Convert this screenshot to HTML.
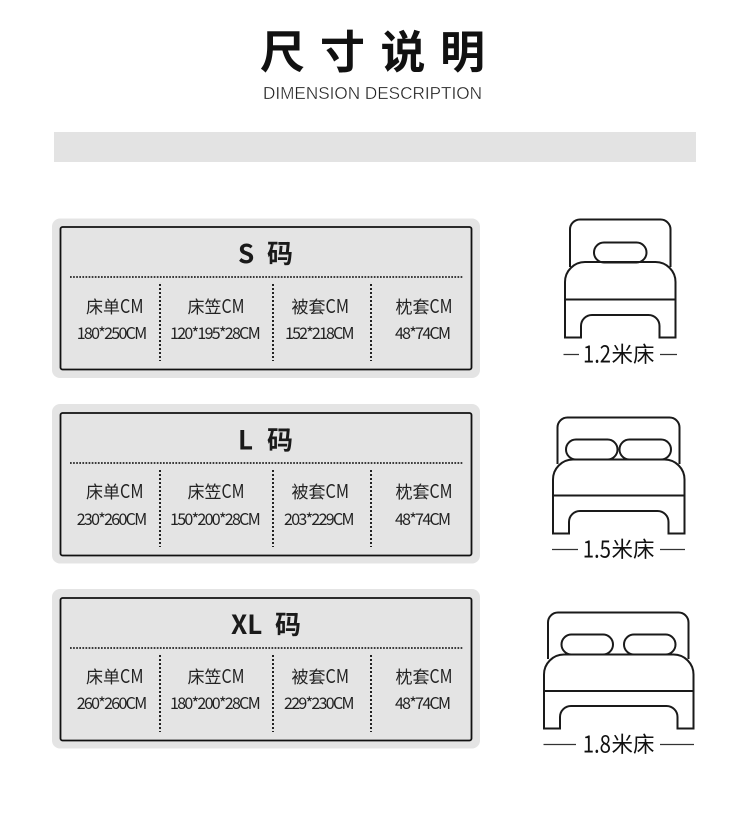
<!DOCTYPE html>
<html>
<head>
<meta charset="utf-8">
<style>
html,body{margin:0;padding:0;background:#fff;width:750px;height:816px;overflow:hidden}
svg{display:block}
text{font-family:"Noto Sans CJK SC","Liberation Sans",sans-serif;fill:#222}
.r1{font-size:17px}
.cm{font-size:19px}
.r2{font-size:16px}
.t{font-size:26px;font-weight:700;fill:#1a1a1a}
.b{font-size:24px;fill:#111}
.bc{font-size:21.500px;fill:#111}
.bed{fill:none;stroke:#1a1a1a;stroke-width:2}
.dh{fill:none;stroke:#222;stroke-width:1.800;stroke-dasharray:1.700 1.400}
.dv{fill:none;stroke:#222;stroke-width:2;stroke-dasharray:2 2}
.ln{stroke:#333;stroke-width:1.200}
.box{fill:#e4e4e4;stroke:#111;stroke-width:1.800}
</style>
</head>
<body>
<svg width="750" height="816" viewBox="0 0 750 816" xmlns="http://www.w3.org/2000/svg">
<rect width="750" height="816" fill="#fff"/>

<text x="260 320 380.500 440" y="68" style="font-size:45px;font-weight:700;fill:#111">尺寸说明</text>
<text x="263" y="99" textLength="219" lengthAdjust="spacingAndGlyphs" style="font-family:'Liberation Sans',sans-serif;font-size:17.500px;fill:#222;stroke:#fff;stroke-width:.35">DIMENSION DESCRIPTION</text>

<rect x="54" y="132" width="642" height="30" fill="#e3e3e3"/>

<!-- S card -->
<rect x="52" y="218.500" width="428" height="159.500" rx="8" fill="#e4e4e4"/>
<rect x="60.500" y="227" width="411" height="142.500" rx="2" class="box"/>
<text x="238" y="263" class="t">S</text>
<text x="267" y="263" class="t">码</text>
<path class="dh" d="M70 277H463"/>
<path class="dv" d="M160 284V361M273 284V361M371 284V361"/>
<text x="86" y="313" class="r1">床单</text><text x="120" y="313" textLength="23.500" lengthAdjust="spacingAndGlyphs" class="cm">CM</text>
<text x="187.500" y="313" class="r1">床笠</text><text x="221.500" y="313" textLength="23" lengthAdjust="spacingAndGlyphs" class="cm">CM</text>
<text x="291.500" y="313" class="r1">被套</text><text x="325.500" y="313" textLength="23.500" lengthAdjust="spacingAndGlyphs" class="cm">CM</text>
<text x="395.500" y="313" class="r1">枕套</text><text x="429.500" y="313" textLength="23" lengthAdjust="spacingAndGlyphs" class="cm">CM</text>
<text x="76.700" y="339" textLength="70.500" class="r2">180*250CM</text>
<text x="170" y="339" textLength="90.700" class="r2">120*195*28CM</text>
<text x="285" y="339" textLength="69.500" class="r2">152*218CM</text>
<text x="395" y="339" textLength="56" class="r2">48*74CM</text>

<!-- L card -->
<rect x="52" y="404" width="428" height="159.500" rx="8" fill="#e4e4e4"/>
<rect x="60.500" y="413" width="411" height="142.500" rx="2" class="box"/>
<text x="238" y="449.500" class="t">L</text>
<text x="267" y="449.500" class="t">码</text>
<path class="dh" d="M70 463H463"/>
<path class="dv" d="M160 470V547M273 470V547M371 470V547"/>
<text x="86" y="498" class="r1">床单</text><text x="120" y="498" textLength="23.500" lengthAdjust="spacingAndGlyphs" class="cm">CM</text>
<text x="187.500" y="498" class="r1">床笠</text><text x="221.500" y="498" textLength="23" lengthAdjust="spacingAndGlyphs" class="cm">CM</text>
<text x="291.500" y="498" class="r1">被套</text><text x="325.500" y="498" textLength="23.500" lengthAdjust="spacingAndGlyphs" class="cm">CM</text>
<text x="395.500" y="498" class="r1">枕套</text><text x="429.500" y="498" textLength="23" lengthAdjust="spacingAndGlyphs" class="cm">CM</text>
<text x="76.700" y="525" textLength="70.500" class="r2">230*260CM</text>
<text x="170" y="525" textLength="90.700" class="r2">150*200*28CM</text>
<text x="284" y="525" textLength="70.500" class="r2">203*229CM</text>
<text x="395" y="525" textLength="56" class="r2">48*74CM</text>

<!-- XL card -->
<rect x="52" y="589" width="428" height="159.500" rx="8" fill="#e4e4e4"/>
<rect x="60.500" y="598" width="411" height="142.500" rx="2" class="box"/>
<text x="231" y="634" class="t">XL</text>
<text x="275" y="634" class="t">码</text>
<path class="dh" d="M70 648H463"/>
<path class="dv" d="M160 655V732M273 655V732M371 655V732"/>
<text x="86" y="683" class="r1">床单</text><text x="120" y="683" textLength="23.500" lengthAdjust="spacingAndGlyphs" class="cm">CM</text>
<text x="187.500" y="683" class="r1">床笠</text><text x="221.500" y="683" textLength="23" lengthAdjust="spacingAndGlyphs" class="cm">CM</text>
<text x="291.500" y="683" class="r1">被套</text><text x="325.500" y="683" textLength="23.500" lengthAdjust="spacingAndGlyphs" class="cm">CM</text>
<text x="395.500" y="683" class="r1">枕套</text><text x="429.500" y="683" textLength="23" lengthAdjust="spacingAndGlyphs" class="cm">CM</text>
<text x="76.700" y="709" textLength="70.500" class="r2">260*260CM</text>
<text x="170" y="709" textLength="90.700" class="r2">180*200*28CM</text>
<text x="284" y="709" textLength="70.500" class="r2">229*230CM</text>
<text x="395" y="709" textLength="56" class="r2">48*74CM</text>

<!-- Bed 1.2 -->
<path class="bed" d="M570 267V230a10 10 0 0 1 10-10.500H660a10 10 0 0 1 10.500 10.500V267"/>
<rect class="bed" x="594" y="242.500" width="52.500" height="20" rx="10"/>
<path class="bed" d="M565 337.500V282a20 20 0 0 1 20-20H655.500a20 20 0 0 1 20 20V337.500H659.500V326a11 11 0 0 0-11-11H592a11 11 0 0 0-11 11V337.500ZM565 299.500H675.500"/>
<path class="ln" d="M563.500 354.500H579M660 354.500H677"/>
<text x="583" y="362.500" textLength="28" lengthAdjust="spacingAndGlyphs" class="b">1.2</text><text x="611.500" y="362" class="bc">米床</text>

<!-- Bed 1.5 -->
<path class="bed" d="M557.500 464V427.500a10 10 0 0 1 10-10H669.500a10 10 0 0 1 10 10V464"/>
<rect class="bed" x="566" y="439.500" width="51.500" height="20" rx="10"/>
<rect class="bed" x="619.500" y="439.500" width="51.500" height="20" rx="10"/>
<path class="bed" d="M553 533.500V479.500a20 20 0 0 1 20-20H664.500a20 20 0 0 1 20 20V533.500H668.500V522a11 11 0 0 0-11-11H580a11 11 0 0 0-11 11V533.500ZM553 495.500H684.500"/>
<path class="ln" d="M552 549.500H578M660 549.500H685"/>
<text x="582.700" y="557.500" textLength="28.300" lengthAdjust="spacingAndGlyphs" class="b">1.5</text><text x="611.500" y="557" class="bc">米床</text>

<!-- Bed 1.8 -->
<path class="bed" d="M548 659V622.500a10 10 0 0 1 10-10H678.500a10 10 0 0 1 10 10V659"/>
<rect class="bed" x="561.500" y="634.500" width="51.500" height="20" rx="10"/>
<rect class="bed" x="624" y="634.500" width="51.500" height="20" rx="10"/>
<path class="bed" d="M544 728.500V674.500a20 20 0 0 1 20-20H673.500a20 20 0 0 1 20 20V728.500H677.500V717a11 11 0 0 0-11-11H571a11 11 0 0 0-11 11V728.500ZM544 691H693.500"/>
<path class="ln" d="M543.500 744.500H576M660 744.500H694"/>
<text x="582.700" y="752.500" textLength="28.300" lengthAdjust="spacingAndGlyphs" class="b">1.8</text><text x="611.500" y="752" class="bc">米床</text>
</svg>
</body>
</html>
